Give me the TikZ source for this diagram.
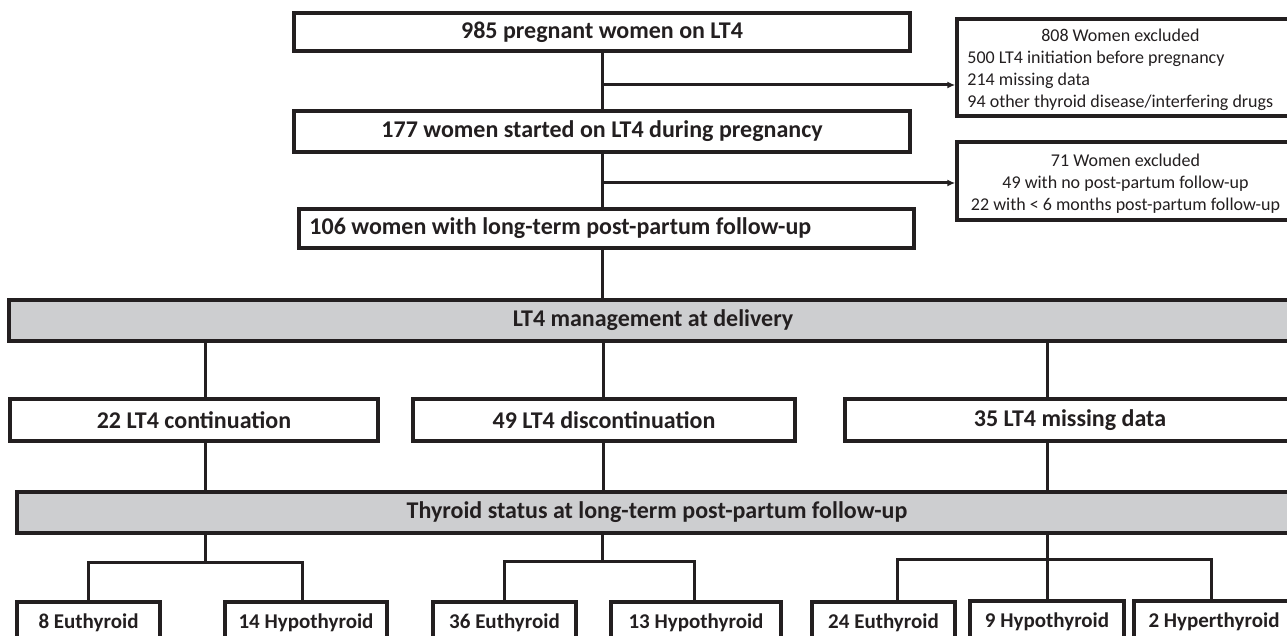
\documentclass[tikz,border=0pt]{standalone}
\usepackage{fontspec}
\setmainfont{Carlito}
\usetikzlibrary{arrows.meta,calc}
\definecolor{ink}{HTML}{231F20}
\definecolor{barfill}{HTML}{CDCED0}
\begin{document}
\begin{tikzpicture}[x=1pt,y=-1pt,
  box/.style={draw=ink, line width=3.5pt, fill=white, inner sep=0pt, text=ink,
    font=\bfseries\fontsize{24}{28}\selectfont},
  boxtext/.style={inner sep=0pt, text=ink, font=\bfseries\fontsize{24}{28}\selectfont},
  bar/.style={box, fill=barfill},
  smallbox/.style={box, font=\bfseries\fontsize{21}{25}\selectfont, minimum height=42pt},
  exbox/.style={draw=ink, line width=3.5pt, fill=white, inner sep=0pt},
  extext/.style={inner sep=0pt, text=ink, font=\fontsize{18}{22}\selectfont},
  conn/.style={draw=ink, line width=3pt},
  arr/.style={conn, -{Latex[length=8pt,width=7pt]}}]
\clip (0,0) rectangle (1287,636);
% top flow
\node[box, minimum width=616pt, minimum height=38pt] (n1) at (602,32) {985 pregnant women on LT4};
\node[box, minimum width=616pt, minimum height=41pt] (n2) at (602,131.5) {177 women started on LT4 during pregnancy};
\node[box, minimum width=615pt, minimum height=39pt] (n3) at (606.5,228.5) {};
\node[boxtext, anchor=west] (n3t) at ([xshift=12pt]n3.west) {106 women with long-term post-partum follow-up};
% exclusion boxes
\node[exbox, minimum width=343pt, minimum height=97pt] (x1) at (1128.5,67.5) {};
\node[extext, anchor=west] (x1t) at ([xshift=12pt,yshift=-3pt]x1.west) {\begin{tabular}{@{}l@{}}\multicolumn{1}{@{}c@{}}{808 Women excluded}\\500 LT4 initiation before pregnancy\\214 missing data\\94 other thyroid disease/interfering drugs\end{tabular}};
\node[exbox, minimum width=343pt, minimum height=78pt] (x2) at (1128.5,181) {};
\node[extext, align=center] (x2t) at (1125.5,183.5) {71 Women excluded\\49 with no post-partum follow-up\\22 with < 6 months post-partum follow-up};
% bars
\node[bar, minimum width=1288pt, minimum height=41pt] (m1) at (653,320.5) {LT4 management at delivery};
\node[bar, minimum width=1280pt, minimum height=41pt] (m2) at (657,512.5) {Thyroid status at long-term post-partum follow-up};
% second row
\node[box, minimum width=368pt, minimum height=42pt] (c1) at (194,420) {22 LT4 continuation};
\node[box, minimum width=382pt, minimum height=42pt] (c2) at (604,420) {49 LT4 discontinuation};
\node[box, minimum width=450pt, minimum height=42pt] (c3) at (1070,420) {35 LT4 missing data};
% bottom row
\node[smallbox, minimum width=143pt] (b1) at (88.5,623) {8 Euthyroid};
\node[smallbox, minimum width=162pt] (b2) at (306,623) {14 Hypothyroid};
\node[smallbox, minimum width=143pt] (b3) at (504.5,623) {36 Euthyroid};
\node[smallbox, minimum width=170pt] (b4) at (696,623) {13 Hypothyroid};
\node[smallbox, minimum width=143pt] (b5) at (883.5,623) {24 Euthyroid};
\node[smallbox, minimum width=154pt] (b6) at (1047,622) {9 Hypothyroid};
\node[smallbox, minimum width=160pt] (b7) at (1214,622) {2 Hyperthyroid};
% connectors top
\draw[conn] (n1.south) -- (n2.north);
\coordinate (j1) at (602,85);
\draw[arr] (j1) -- (j1 -| x1.west);
\draw[conn] (n2.south) -- (n2.south |- n3.north);
\coordinate (j2) at (602,183);
\draw[arr] (j2) -- (j2 -| x2.west);
\draw[conn] (n2.south |- n3.south) -- (n2.south |- m1.north);
% connectors middle
\coordinate (cl) at (205,0);
\coordinate (cm) at (603,0);
\coordinate (cr) at (1047,0);
\draw[conn] (m1.south -| cl) -- (c1.north -| cl);
\draw[conn] (m1.south -| cm) -- (c2.north -| cm);
\draw[conn] (m1.south -| cr) -- (c3.north -| cr);
\draw[conn] (c1.south -| cl) -- (m2.north -| cl);
\draw[conn] (c2.south -| cm) -- (m2.north -| cm);
\draw[conn] (c3.south -| cr) -- (m2.north -| cr);
% connectors bottom
\coordinate (hl) at (205,562);
\coordinate (hm) at (602,561);
\coordinate (hr) at (1047,559);
\draw[conn] (m2.south -| hl) -- (hl);
\draw[conn] ([xshift=-0.5pt]b1.north) |- (hl) -| ([xshift=-4pt]b2.north);
\draw[conn] (m2.south -| hm) -- (hm);
\draw[conn] (b3.north) |- (hm) -| ([xshift=-2pt]b4.north);
\draw[conn] (m2.south -| hr) -- (b6.north);
\draw[conn] ([xshift=13.5pt]b5.north) |- (hr) -| ([xshift=-3pt]b7.north);
\end{tikzpicture}
\end{document}
